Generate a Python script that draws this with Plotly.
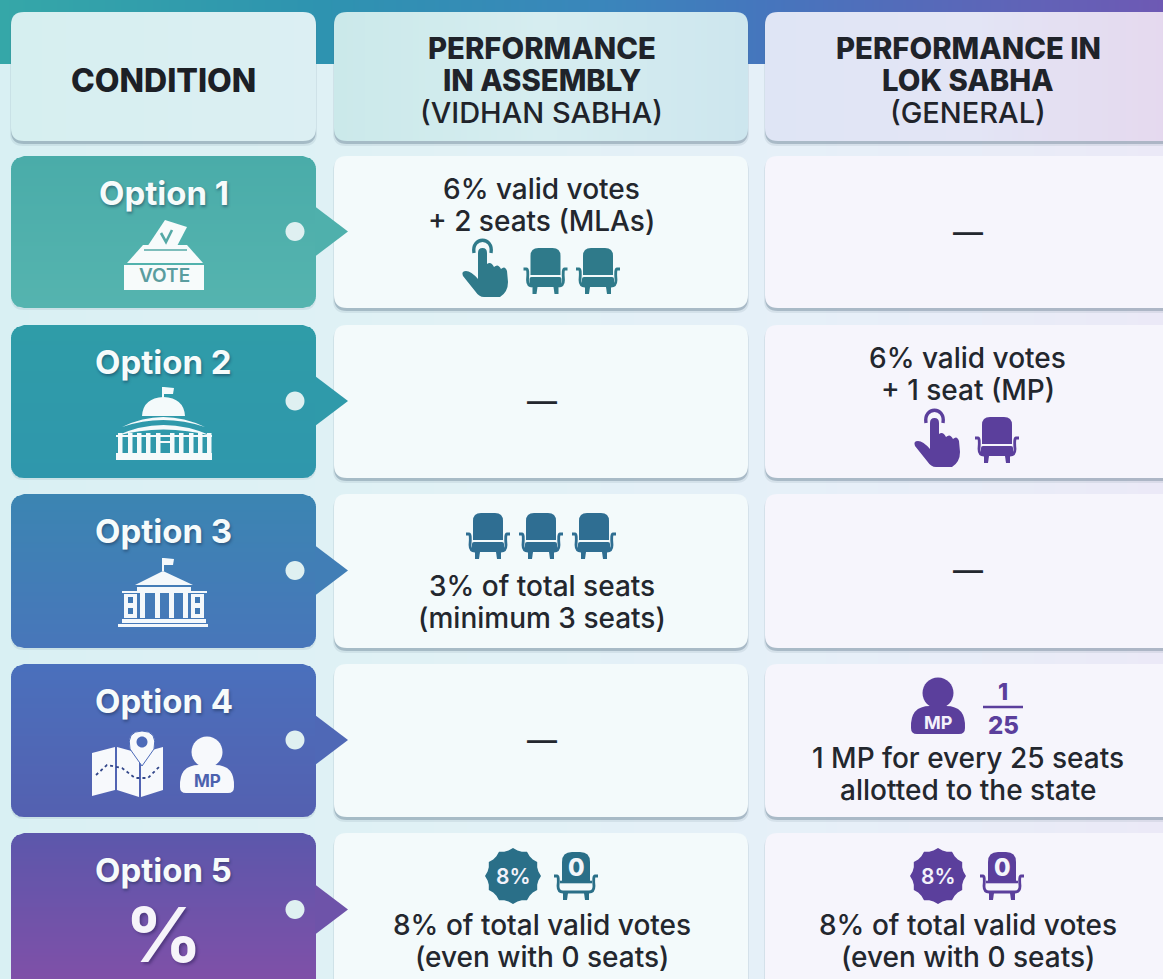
import math
import plotly.graph_objects as go

# ---------- content ----------
OPTIONS = ["Option 1", "Option 2", "Option 3", "Option 4", "Option 5"]
HEAD_CONDITION = "CONDITION"
HEAD_ASSEMBLY = ["PERFORMANCE", "IN ASSEMBLY", "(VIDHAN SABHA)"]
HEAD_LOKSABHA = ["PERFORMANCE IN", "LOK SABHA", "(GENERAL)"]
ASSEMBLY = [["6% valid votes", "+ 2 seats (MLAs)"], None,
            ["3% of total seats", "(minimum 3 seats)"], None,
            ["8% of total valid votes", "(even with 0 seats)"]]
LOKSABHA = [None, ["6% valid votes", "+ 1 seat (MP)"], None,
            ["1 MP for every 25 seats", "allotted to the state"],
            ["8% of total valid votes", "(even with 0 seats)"]]

# ---------- style ----------
W, H = 1163, 979
FONT = "Inter"
INK = "#23272e"
ROWS = [(156, 308), (325, 478), (494, 648), (664, 817), (833, 1000)]
COLS = [(11, 316), (334, 748), (765, 1175)]
TEAL = "#2f7a8a"
BLUE = "#2f6e92"
PURPLE = "#5b3f9c"
CARD_GRAD = [("#4aaca9", "#55b4af"), ("#2f9ca8", "#2f97ac"), ("#3b85b2", "#4876ba"),
             ("#4a70bc", "#5460b0"), ("#5c57ab", "#7f50a8")]

shapes, notes = [], []


def hex2rgb(c):
    return tuple(int(c[i:i + 2], 16) for i in (1, 3, 5))


def mix(a, b, t):
    ra, rb = hex2rgb(a), hex2rgb(b)
    return "rgb(%d,%d,%d)" % tuple(round(ra[i] + (rb[i] - ra[i]) * t) for i in range(3))


def multi(stops, t):
    t = max(0, min(1, t))
    n = len(stops) - 1
    i = min(int(t * n), n - 1)
    return mix(stops[i], stops[i + 1], t * n - i)


def add(path, fill=None, line=None, lw=0):
    s = dict(type="path", path=path, xref="x", yref="y", layer="above",
             line=dict(width=lw, color=line if line else "rgba(0,0,0,0)"))
    if fill:
        s["fillcolor"] = fill
    shapes.append(s)


def rr_path(x0, y0, x1, y1, r):
    return (f"M{x0+r},{y0} L{x1-r},{y0} Q{x1},{y0} {x1},{y0+r} L{x1},{y1-r} Q{x1},{y1} {x1-r},{y1} "
            f"L{x0+r},{y1} Q{x0},{y1} {x0},{y1-r} L{x0},{y0+r} Q{x0},{y0} {x0+r},{y0} Z")


def top_round(x0, y0, x1, y1, r):
    return f"M{x0},{y1} L{x0},{y0+r} Q{x0},{y0} {x0+r},{y0} L{x1-r},{y0} Q{x1},{y0} {x1},{y0+r} L{x1},{y1} Z"


def rect(x0, y0, x1, y1, fill):
    add(f"M{x0},{y0} L{x1},{y0} L{x1},{y1} L{x0},{y1} Z", fill)


def circle(cx, cy, r, fill=None, line=None, lw=0, ry=None):
    ry = ry or r
    k = 0.5523
    add(f"M{cx-r},{cy} C{cx-r},{cy-k*ry} {cx-k*r},{cy-ry} {cx},{cy-ry} C{cx+k*r},{cy-ry} {cx+r},{cy-k*ry} {cx+r},{cy} "
        f"C{cx+r},{cy+k*ry} {cx+k*r},{cy+ry} {cx},{cy+ry} C{cx-k*r},{cy+ry} {cx-r},{cy+k*ry} {cx-r},{cy} Z", fill, line, lw)


def inset(d, r):
    if d >= r:
        return 0
    return r - math.sqrt(max(r * r - (r - d) ** 2, 0))


def grad_card(x0, y0, x1, y1, r, colfn, vertical=True, step=2):
    """rounded card filled by thin slices"""
    if vertical:
        y = y0
        while y < y1:
            ye = min(y + step, y1)
            i0 = max(inset(y - y0, r), inset(y1 - y, r))
            i1 = max(inset(ye - y0, r), inset(y1 - ye, r))
            yo = min(ye + 0.6, y1)
            add(f"M{x0+i0:.2f},{y} L{x1-i0:.2f},{y} L{x1-i1:.2f},{yo} L{x0+i1:.2f},{yo} Z", colfn((y - y0) / (y1 - y0), y))
            y = ye
    else:
        step = step * 3
        x = x0 + r
        add(rr_path(x0, y0, x0 + 2 * r, y1, r), colfn(0, x0))
        add(rr_path(x1 - 2 * r, y0, x1, y1, r), colfn(1, x1))
        while x < x1 - r:
            xe = min(x + step, x1 - r)
            rect(x, y0, min(xe + 0.6, x1 - r), y1, colfn((x - x0) / (x1 - x0), x))
            x = xe


def card_shadow(x0, y0, x1, y1, r=13):
    add(rr_path(x0 - 1, y0 + 2, x1 + 1, y1 + 5, r), "rgba(70,95,120,0.10)")
    add(rr_path(x0, y0 + 2, x1, y1 + 3, r), "rgba(70,95,120,0.30)")


def text(x, y, t, size, color=INK, weight=500, shadow=None, family=FONT):
    f = dict(family=family, size=size, color=color, weight=weight)
    if shadow:
        f["shadow"] = shadow
    notes.append(dict(x=x, y=y, xref="x", yref="y", text=t, showarrow=False,
                      xanchor="center", yanchor="middle", font=f))


# ---------- icons ----------
def chair(cx, cy, c):
    add(top_round(cx - 15, cy - 24, cx + 15, cy + 3, 8), c)
    add(rr_path(cx - 16, cy + 5, cx + 16, cy + 15, 2), c)
    for sgn in (-1, 1):
        add(f"M{cx+sgn*22},{cy-3} L{cx+sgn*19},{cy-3} Q{cx+sgn*17},{cy-3} {cx+sgn*18},{cy+8} "
            f"Q{cx+sgn*18},{cy+14} {cx+sgn*13},{cy+14}", None, c, 2.8)
        add(f"M{cx+sgn*13},{cy+15} L{cx+sgn*8},{cy+15} L{cx+sgn*9},{cy+22} L{cx+sgn*13},{cy+22} Z", c)


def chair_zero(cx, cy, c):
    add(top_round(cx - 14, cy - 25, cx + 14, cy + 4, 10), c)
    text(cx, cy - 10, "0", 24, "#f4f6fa", 800)
    for sgn in (-1, 1):
        add(f"M{cx+sgn*22},{cy-1} L{cx+sgn*19},{cy-1} Q{cx+sgn*17},{cy-1} {cx+sgn*18},{cy+9} "
            f"Q{cx+sgn*18},{cy+15} {cx+sgn*13},{cy+15} L{cx},{cy+15}", None, c, 2.8)
        add(f"M{cx+sgn*13},{cy+16} L{cx+sgn*8},{cy+16} L{cx+sgn*9},{cy+23} L{cx+sgn*13},{cy+23} Z", c)
    add(f"M{cx-16},{cy+5} L{cx+16},{cy+5}", None, c, 2.6)


def hand(cx, cy, c):
    def p(x, y):
        return f"{cx+x},{cy+y}"
    add(f"M{p(-7,-12)} L{p(-7,-15)} Q{p(-7,-20)} {p(-2.5,-20)} Q{p(2,-20)} {p(2,-15)} L{p(2,-4)} Q{p(6,-7)} {p(9,-1)} "
        f"Q{p(13,-5)} {p(16,1)} Q{p(20,-3)} {p(22,3)} L{p(23,14)} Q{p(23,24)} {p(15,29)} L{p(-1,29)} "
        f"Q{p(-6,29)} {p(-10,23)} L{p(-22,8)} Q{p(-24,3)} {p(-19,3)} Q{p(-14,3)} {p(-7,11)} Z", c)
    add(f"M{p(-11,-15)} C{p(-14,-32)} {p(9,-32)} {p(6,-15)}", None, c, 3.4)


def badge(cx, cy, r, c):
    pts = []
    n = 36
    for i in range(n):
        a = 2 * math.pi * i / n
        rr = r if i % 3 == 0 else r - 2.2
        pts.append(f"{cx+rr*math.cos(a):.1f},{cy+rr*math.sin(a):.1f}")
    add("M" + " L".join(pts) + " Z", c)
    text(cx, cy, "8%", 21, "#f2f2fa", 600)


def person(cx, top, c, txt, label, size=17):
    circle(cx, top + 16, 15.5, c)
    y0, y1 = top + 29, top + 57
    w = 27
    add(f"M{cx-w},{y1-6} Q{cx-w-1},{y0} {cx-8},{y0} L{cx+8},{y0} Q{cx+w+1},{y0} {cx+w},{y1-6} "
        f"Q{cx+w},{y1} {cx+w-6},{y1} L{cx-w+6},{y1} Q{cx-w},{y1} {cx-w},{y1-6} Z", c)
    text(cx, top + 45, label, size, txt, 700)


def vote_box(c, ink):
    add("M147,247 L165,220 L187,227 L176,248 Z", c)
    add("M161,233 L166,242 L172,230", None, ink, 2.6)
    add("M143,245 L187,245 L203,263 L127,263 Z", c)
    rect(124, 265, 204, 290, c)
    add("M144,250 L187,250", None, ink, 1.6)
    text(164, 275, "VOTE", 19, "#5a9d9f", 600)


def capitol_dome(c):
    add("M163,387 L163,398", None, c, 2)
    add("M164,387 L174,388 L173,394 L164,394 Z", c)
    add("M142,416 Q143,398 163.5,397 Q184,398 185,416 Z", c)
    add("M122,427 Q163,407 205,427 Q163,413 122,427 Z", c)
    add("M116,436 Q163,414 212,436 Q163,423 116,436 Z", c)
    rect(116, 435, 212, 437, c)
    for x in (118, 128, 137, 146, 156, 170, 179, 189, 198, 207):
        rect(x, 433, x + 4.5, 453, c)
    rect(160, 441, 170, 443, c)
    rect(116, 453, 212, 460, c)


def capitol_flat(c, ink):
    add("M163,558 L163,571", None, c, 2)
    add("M164,558 L174,559 L173,565 L164,565 Z", c)
    add("M135,585 L163,571 L193,585 Z", c)
    rect(137, 587, 191, 592, c)
    rect(122, 591, 207, 593, c)
    rect(124, 594, 137, 618, c)
    rect(191, 594, 204, 618, c)
    for x in (140, 155, 169, 183):
        rect(x, 593, x + 5, 618, c)
    for x in (128, 195):
        rect(x, 597, x + 5, 603, ink)
        rect(x, 608, x + 5, 614, ink)
    rect(122, 619, 206, 623, c)
    rect(118, 624, 208, 627, c)


def map_icon(c, ink):
    add("M92,753 L115,747 L115,790 L92,796 Z", c)
    add("M117,747 L139,753 L139,797 L117,790 Z", c)
    add("M141,753 L163,747 L163,790 L141,797 Z", c)
    add("M96,775 L107,765 L122,768 L135,778 L148,778 L160,766", None, "#33478a", 1.8)
    shapes[-1]["line"]["dash"] = "dot"
    add("M142,766 L130,749 Q126,731 142,731 Q158,731 154,749 Z", c, ink, 1)
    circle(142, 742, 5.5, ink)


# ---------- backdrop: cards ----------
HEAD_TOP, HEAD_BOT = 12, 141
for c0, c1 in COLS:
    card_shadow(c0, HEAD_TOP, c1, HEAD_BOT)
grad_card(COLS[0][0], HEAD_TOP, COLS[0][1], HEAD_BOT, 13,
          lambda t, p: mix("#d6eff0", "#dceff3", t), vertical=False)
grad_card(COLS[1][0], HEAD_TOP, COLS[1][1], HEAD_BOT, 13,
          lambda t, p: multi(["#cbe9ea", "#d6edf0", "#cde6ee"], t), vertical=False)
grad_card(COLS[2][0], HEAD_TOP, COLS[2][1], HEAD_BOT, 13,
          lambda t, p: multi(["#dfe5f5", "#e3e5f5", "#e5d8ee"], t), vertical=False)

for i, (y0, y1) in enumerate(ROWS):
    cy = (y0 + y1) / 2 - 0.5 if i < 4 else 909.5
    for cx0, cx1, f in [(COLS[1][0], COLS[1][1], "#f3fafb"), (COLS[2][0], COLS[2][1], "#f6f5fc")]:
        card_shadow(cx0, y0, cx1, y1)
        add(rr_path(cx0, y0, cx1, y1, 13), f)
    top_c, bot_c = CARD_GRAD[i]
    vis = min(y1, H)
    fn = (lambda a, b, yy0, yy1: (lambda t, p: mix(a, b, max(0, min(1, (p - yy0) / (yy1 - yy0))))))(top_c, bot_c, y0, vis)
    add(rr_path(COLS[0][0], y0 + 2, COLS[0][1], y1 + 2, 13), "rgba(70,95,120,0.10)")
    grad_card(COLS[0][0], y0, COLS[0][1], y1, 13, fn)
    add(f"M{COLS[0][1]-1},{cy-25} L348,{cy} L{COLS[0][1]-1},{cy+25} Z", fn(0, cy))
    circle(295, cy, 9.5, "#dff0f1")
    text(163.5, [193, 362, 531, 701, 870][i], OPTIONS[i], 33, "#f6fbfb", 700,
         "1px 2px 3px rgba(20,40,70,0.45)")

# ---------- headers ----------
text(163.5, 80, HEAD_CONDITION, 32, "#1c2026", 800)
for x, lines in ((541.5, HEAD_ASSEMBLY), (968, HEAD_LOKSABHA)):
    for y, ln, sz, wt in zip((48, 80, 112), lines, (29.3, 29.3, 29), (800, 800, 500)):
        text(x, y, ln, sz, "#1f232a", wt)

# ---------- cells ----------
TEXT_Y = [(189, 221), (358, 390), (586, 618), (758, 790), (925, 957)]
DASH_Y = [232, 401, 570, 740]
for i in range(5):
    if ASSEMBLY[i]:
        for y, ln in zip(TEXT_Y[i], ASSEMBLY[i]):
            text(541.5, y, ln, 28, INK, 500)
    else:
        text(541.5, DASH_Y[i], "—", 30, INK, 500)
    if LOKSABHA[i]:
        for y, ln in zip(TEXT_Y[i], LOKSABHA[i]):
            text(967.5, y, ln, 28, INK, 500)
    else:
        text(967.5, DASH_Y[i], "—", 30, INK, 500)

# ---------- icons placed ----------
vote_box("#f7fbfb", "#55a9a6")
capitol_dome("#f4fafb")
capitol_flat("#f4f8fb", "#3f78b4")
map_icon("#f7f9fc", "#4c6ab8")
person(207, 736, "#f7f9fc", "#4c62ae", "MP", 17)
text(163, 934, "%", 76, "#f6f4fa", 700, "2px 2px 3px rgba(30,20,70,0.4)")

hand(485, 268, TEAL)
chair(545.5, 272, TEAL)
chair(598, 272, TEAL)
hand(937, 438, PURPLE)
chair(997, 441, PURPLE)
for x in (488, 541, 594):
    chair(x, 537, BLUE)
person(938, 677, PURPLE, "#f4f2fb", "MP", 18)
text(1003, 692, "1", 23, PURPLE, 800)
add("M983,707 L1023,707", None, PURPLE, 2.6)
text(1003, 725, "25", 24, PURPLE, 800)
badge(513, 876, 28, "#2a6f88")
chair_zero(576, 877, "#2a6f88")
badge(938, 876, 28, PURPLE)
chair_zero(1002, 877, PURPLE)

# ---------- traces (page gradient + top band) ----------
bg = go.Heatmap(x=[0, 400, 800, 1163], y=[0, 979], z=[[0, .33, .66, 1], [0, .33, .66, 1]],
                zmin=0, zmax=1, zsmooth="best", showscale=False, hoverinfo="skip",
                colorscale=[[0, "#d9f0f3"], [.33, "#e0f1f5"], [.66, "#e6f0f8"], [1, "#ebe9f7"]])
band = go.Heatmap(x=[0, 320, 600, 760, 1163], y=[16, 48], z=[[0, .3, .55, .72, 1], [0, .3, .55, .72, 1]],
                  zmin=0, zmax=1, zsmooth="best", showscale=False, hoverinfo="skip",
                  colorscale=[[0, "#35a7a8"], [.3, "#2e93b0"], [.55, "#3a86bb"], [.72, "#4576bd"], [1, "#6e59b4"]])

fig = go.Figure([bg, band])
fig.update_layout(width=W, height=H, margin=dict(l=0, r=0, t=0, b=0), showlegend=False,
                  paper_bgcolor="#e0f1f5", plot_bgcolor="rgba(0,0,0,0)",
                  xaxis=dict(range=[0, W], visible=False, fixedrange=True),
                  yaxis=dict(range=[H, 0], visible=False, fixedrange=True),
                  shapes=shapes, annotations=notes)
fig.write_html("out.html", config=dict(displayModeBar=False),
               post_script="document.body.style.margin='0';document.body.style.overflow='hidden';")
